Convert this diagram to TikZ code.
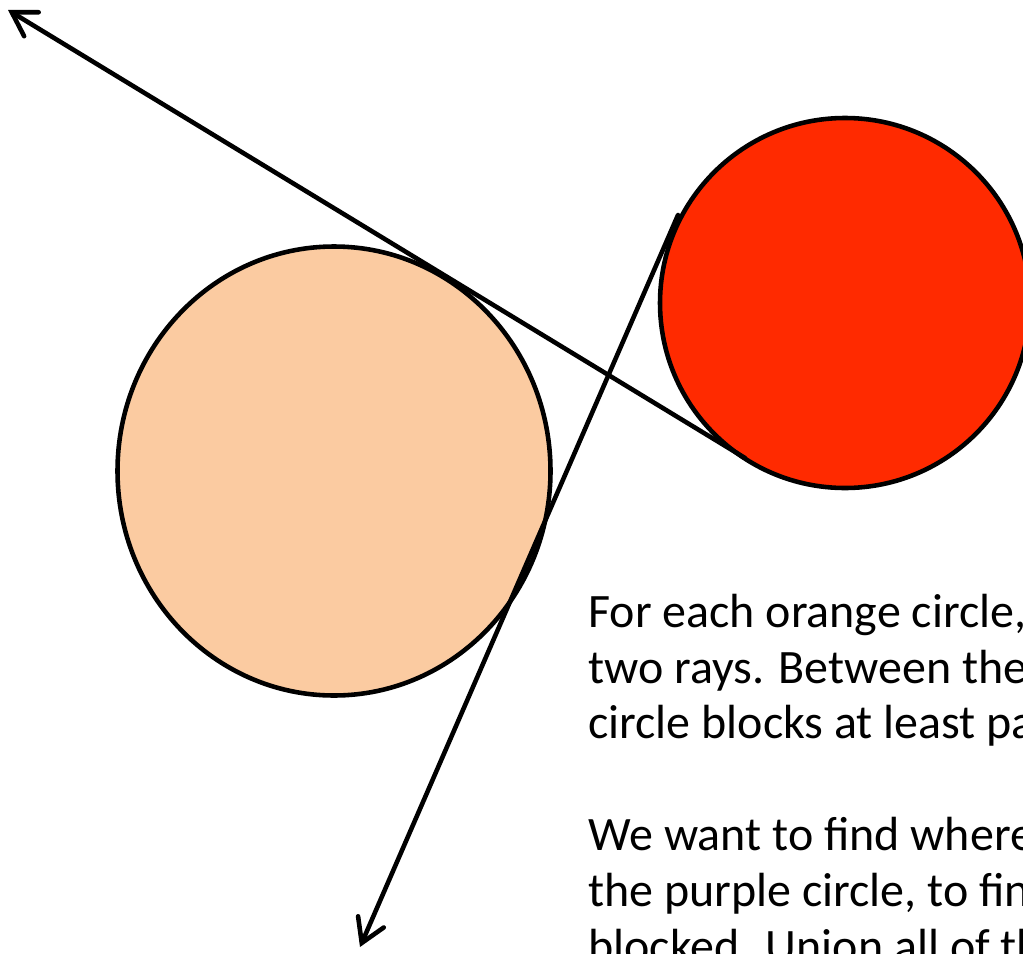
\documentclass[tikz,border=0pt]{standalone}
\usepackage{fontspec}
\setmainfont{Carlito}
\usetikzlibrary{arrows.meta}
\definecolor{peach}{RGB}{251,203,161}
\definecolor{hotred}{RGB}{255,42,0}
\tikzset{
  ray/.style={line width=2.6pt,line cap=round,-{Straight Barb[length=0.46cm,width=0.56cm,line cap=round]}},
  disc/.style={line width=2.6pt,draw=black}
}
\begin{document}
\begin{tikzpicture}[x=0.02cm,y=-0.02cm]
    \useasboundingbox (0,0) rectangle (1023,953);
    \fill[peach,disc] (334,471) ellipse [x radius=216.5,y radius=224.5];
    \fill[hotred,disc] (845,303) circle [radius=185];
    \coordinate (a1) at (745,458);
    \coordinate (a2) at (8,10);
    \coordinate (b1) at (678,215);
    \coordinate (b2) at (360,947);
    \draw[ray] (a1)--(a2);
    \draw[ray] (b1)--(b2);
    % anchored at the baseline of the last line
    \node[anchor=base west,align=left,inner sep=0pt,font=\fontsize{27.3pt}{31.75pt}\selectfont] (txt) at (588,962)
        {For each orange circle,\\two rays. Between the\\circle blocks at least pa\\[31.75pt]We want to find where\\the purple circle, to fin\\blocked. Union all of th};
\end{tikzpicture}
\end{document}
